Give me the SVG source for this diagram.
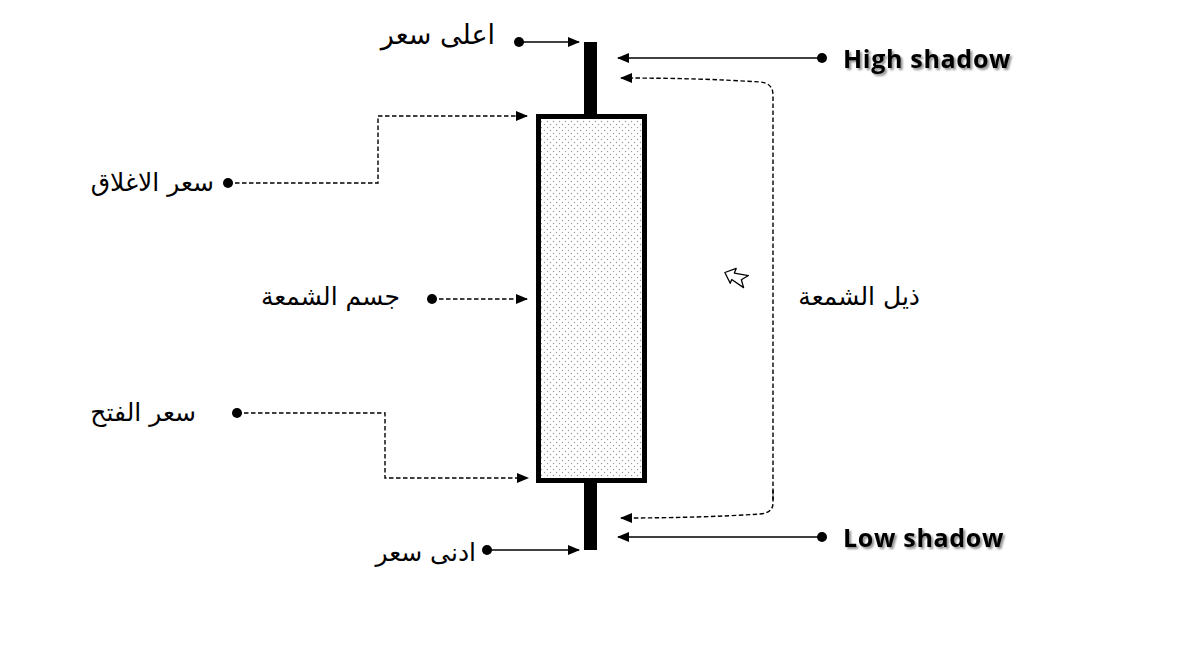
<svg xmlns="http://www.w3.org/2000/svg" width="1200" height="650" viewBox="0 0 1200 650">
<defs>
<pattern id="dots" width="6" height="6" patternUnits="userSpaceOnUse">
<rect width="6" height="6" fill="#ffffff"/>
<circle cx="1.5" cy="1.5" r="0.7" fill="#999"/>
<circle cx="4.5" cy="4.5" r="0.7" fill="#999"/>
</pattern>
<marker id="ah" markerWidth="12" markerHeight="10" refX="11" refY="5" orient="auto" markerUnits="userSpaceOnUse">
<path d="M0,0 L12,5 L0,10 Z" fill="#000"/>
</marker>
<filter id="sh" x="-10%" y="-30%" width="130%" height="160%">
<feGaussianBlur in="SourceAlpha" stdDeviation="1.2"/>
<feOffset dx="2" dy="2" result="b"/>
<feComponentTransfer><feFuncA type="linear" slope="0.45"/></feComponentTransfer>
<feMerge><feMergeNode/><feMergeNode in="SourceGraphic"/></feMerge>
</filter>
</defs>
<style>
.ar{font-family:"DejaVu Sans","Noto Sans",sans-serif;font-size:25px;fill:#000;}
.en{font-family:"Open Sans","Liberation Sans",sans-serif;font-weight:bold;font-size:25px;letter-spacing:0.7px;fill:#000;}
.solid{stroke:#000;stroke-width:1.6;fill:none;}
.dash{stroke:#000;stroke-width:1.4;fill:none;stroke-dasharray:4.5 2.5;}
.dot{fill:#000;}
</style>
<rect width="1200" height="650" fill="#ffffff"/>

<g id="candle">
<rect x="584" y="42" width="13" height="508" fill="#000"/>
<rect x="538.5" y="116.5" width="106" height="364" fill="url(#dots)" stroke="#000" stroke-width="5"/>
</g>

<g id="connectors">
<path class="solid" d="M519,42 H579" marker-end="url(#ah)"/>
<path class="solid" d="M822,58 H618" marker-end="url(#ah)"/>
<path class="dash" d="M228,183 H378 V116 H527" marker-end="url(#ah)"/>
<path class="dash" d="M432,299 H527" marker-end="url(#ah)"/>
<path class="dash" d="M237,413 H385 V478 H528" marker-end="url(#ah)"/>
<path class="solid" d="M487,550 H579" marker-end="url(#ah)"/>
<path class="solid" d="M822,537 H618" marker-end="url(#ah)"/>
<path class="dash" d="M773,500 V95 Q773,83 760,82 Q700,78 621,78" marker-end="url(#ah)"/>
<path class="dash" d="M773,490 V503 Q773,513 760,514 Q700,518 621,518" marker-end="url(#ah)"/>
<circle class="dot" cx="519" cy="42" r="5"/>
<circle class="dot" cx="822" cy="58" r="5"/>
<circle class="dot" cx="228" cy="183" r="5"/>
<circle class="dot" cx="432" cy="299" r="5"/>
<circle class="dot" cx="237" cy="413" r="5"/>
<circle class="dot" cx="487" cy="550" r="5"/>
<circle class="dot" cx="822" cy="537" r="5"/>
</g>

<g id="label-high-price"><text class="ar" x="495" y="44" text-anchor="end" style="font-size:27px">اعلى سعر</text></g>
<g id="label-high-shadow"><text class="en" x="843" y="68" filter="url(#sh)">High shadow</text></g>
<g id="label-close"><text class="ar" x="214" y="191" text-anchor="end">سعر الاغلاق</text></g>
<g id="label-body"><text class="ar" x="400" y="305" text-anchor="end">جسم الشمعة</text></g>
<g id="label-open"><text class="ar" x="196" y="421" text-anchor="end">سعر الفتح</text></g>
<g id="label-low-price"><text class="ar" x="476" y="561" text-anchor="end">ادنى سعر</text></g>
<g id="label-low-shadow"><text class="en" x="843" y="547" filter="url(#sh)">Low shadow</text></g>
<g id="label-tail"><text class="ar" x="920" y="305" text-anchor="end">ذيل الشمعة</text></g>
<g id="cursor-icon">
<path transform="translate(736,277) rotate(22)" d="M-12,0 L-3,-8 L-3,-3 L11,-6 L6,0.5 L11,7 L-3,4 L-3,8 Z" fill="#fff" stroke="#000" stroke-width="1.3" stroke-linejoin="round"/>
</g>
</svg>
